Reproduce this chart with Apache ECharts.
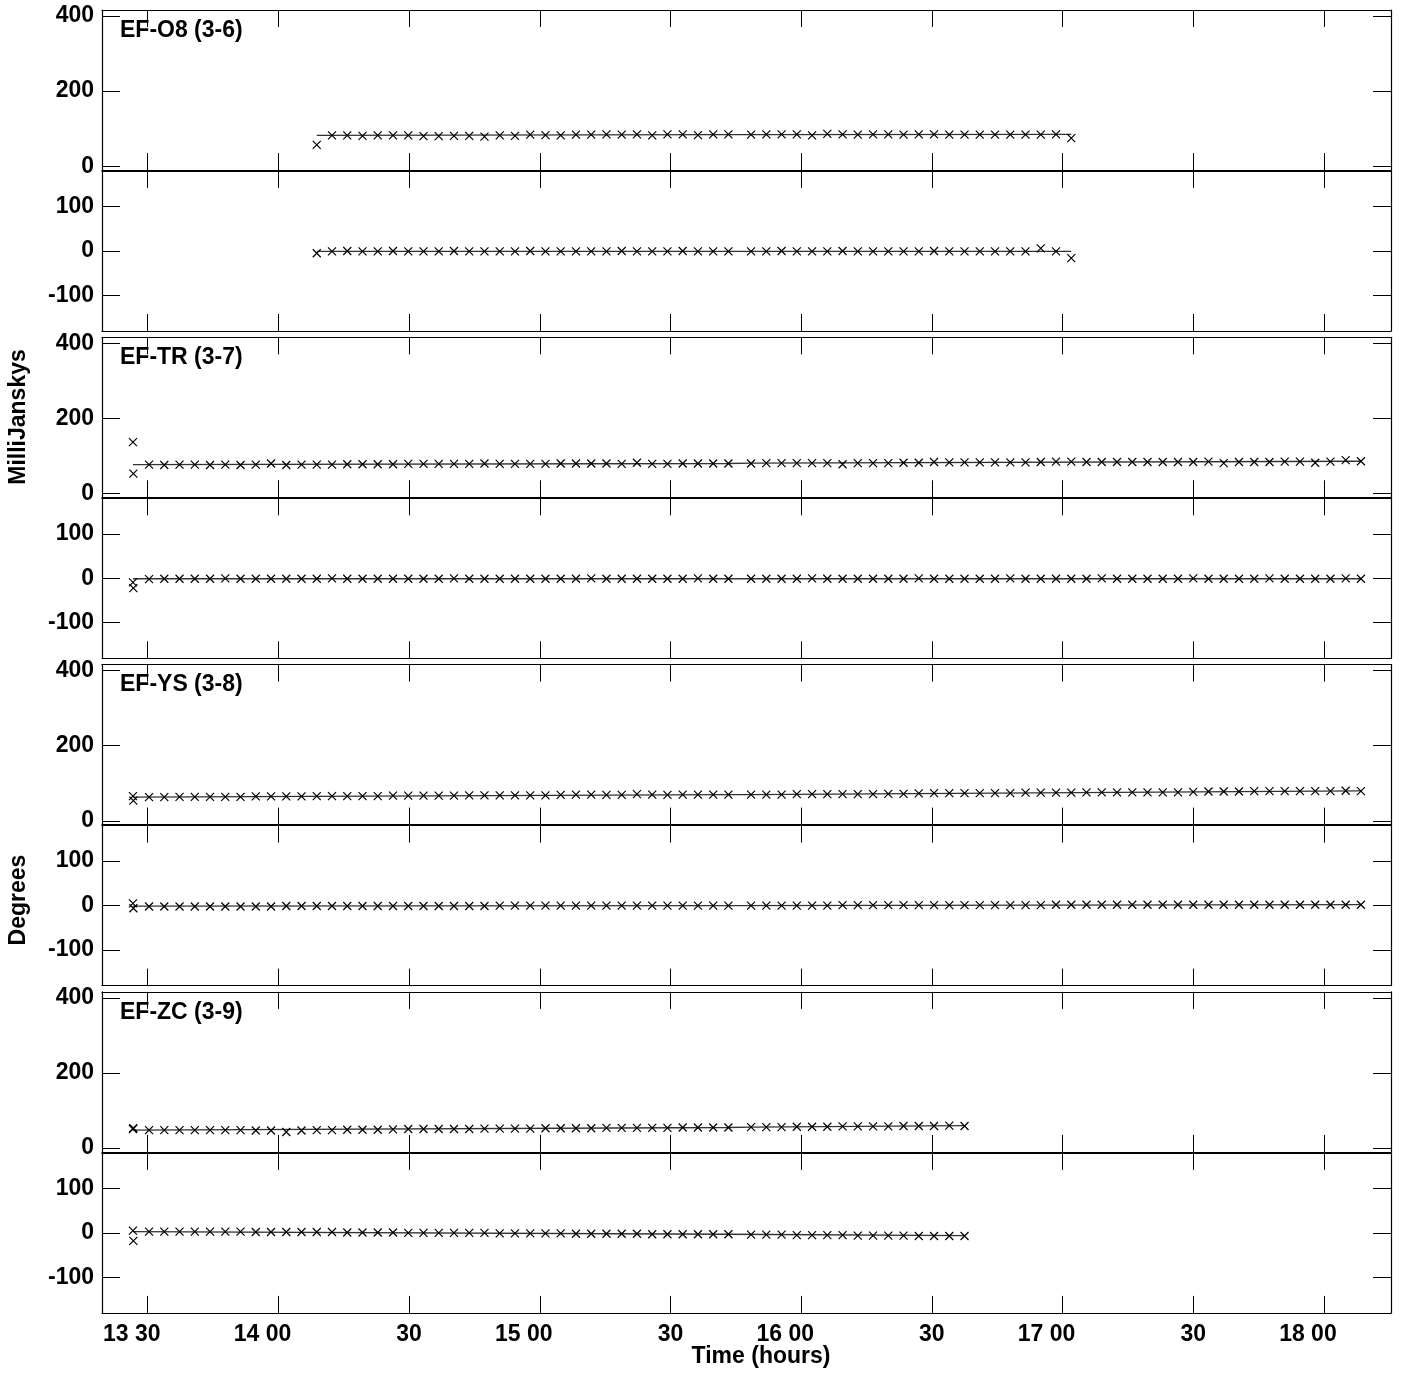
<!DOCTYPE html>
<html>
<head>
<meta charset="utf-8">
<title>EF baselines - amplitude and phase</title>
<script src="https://cdn.jsdelivr.net/npm/echarts@6.0.0/dist/echarts.min.js"></script>
<style>
  html, body { margin: 0; padding: 0; background: #fff; }
  #chart { width: 1403px; height: 1373px; }
</style>
</head>
<body>
<div id="chart"></div>
<script>
// sample times, minutes after 13:00
const times = [
  26.6, 26.7,
  30.3, 33.8, 37.3, 40.8, 44.3, 47.8, 51.3, 54.8, 58.3, 61.8,
  65.3, 68.8, 72.3, 75.8, 79.3, 82.8, 86.3, 89.8, 93.3, 96.8,
  100.3, 103.8, 107.3, 110.8, 114.3, 117.8, 121.3, 124.8, 128.3, 131.8,
  135.3, 138.8, 142.3, 145.8, 149.3, 152.8, 156.3, 159.8, 163.3,
  168.5, 172, 175.5, 179, 182.5, 186, 189.5, 193, 196.5, 200,
  203.5, 207, 210.5, 214, 217.5, 221, 224.5, 228, 231.5, 235,
  238.5, 242, 245.5, 249, 252.5, 256, 259.5, 263, 266.5, 270,
  273.5, 277, 280.5, 284, 287.5, 291, 294.5, 298, 301.5, 305, 308.5
];

// EF-O8 (3-6)
const o8Amp = [
  null, null, null, null, null, null, null, null, null, null, null, null, null,
  57, 82, 82, 81, 82, 82, 82, 80, 80, 81, 81, 79, 82, 81, 84, 83, 82, 84, 84, 85,
  84, 85, 82, 85, 85, 83, 85, 85,
  84, 85, 85, 85, 82, 86, 85, 84, 85, 85, 84, 85, 85, 84, 84, 84, 84, 84, 84, 84, 85, 75,
  null, null, null, null, null, null, null, null, null, null, null, null, null, null, null, null, null, null, null
];
const o8Phase = [
  null, null, null, null, null, null, null, null, null, null, null, null, null,
  -5, -1, 0, -1, -1, 0, -1, -1, -1, 0, -1, -1, -1, -1, 0, -1, -1, -1, -1, -1, 0,
  -1, -1, -1, 0, -1, -1, -1,
  -1, -1, 0, -1, -1, -1, 0, -1, -1, -1, -1, -1, 0, -1, -1, -1, -1, -1, -1, 6, -1, -16,
  null, null, null, null, null, null, null, null, null, null, null, null, null, null, null, null, null, null, null
];
const o8AmpModel = [[68.8, 82], [163.3, 84], [168.5, 84], [242, 85]];
const o8PhaseModel = [[68.8, -1], [242, -1]];

// EF-TR (3-7)
const trAmp = [
  137, 53,
  77, 76, 77, 77, 76, 77, 76, 77, 80, 76, 77, 77, 77, 78, 78, 78, 78, 79, 79, 79,
  79, 79, 80, 79, 79, 79, 79, 80, 80, 80, 80, 79, 82, 79, 79, 80, 80, 80, 80,
  80, 81, 81, 81, 81, 81, 78, 81, 81, 81, 82, 82, 84, 83, 83, 83, 83, 83, 83, 84,
  85, 85, 84, 84, 84, 84, 84, 84, 84, 84, 85, 81, 84, 84, 84, 85, 85, 82, 85, 89, 86
];
const trPhase = [
  -9, -22,
  -2, -1, -1, -1, -1, 0, -1, -1, -1, -1, -1, -1, 0, -1, -1, -1, -1, -1, -1, -1,
  0, -1, -1, -1, -1, -1, -1, -1, -1, 0, -1, -1, -1, -1, -1, -1, 0, -1, -1,
  -1, -1, -1, -1, 0, -1, -1, -1, -1, -1, -1, 0, -1, -1, -1, -1, -1, 0, -1, -1,
  -1, -1, -1, 0, -1, -1, -1, -1, -1, 0, -1, -1, -1, -1, 0, -1, -1, -1, -1, 0, -1
];
const trAmpModel = [[26.6, 77], [163.3, 80], [168.5, 81], [308.5, 86]];
const trPhaseModel = [[26.6, -1], [308.5, -1]];

// EF-YS (3-8)
const ysAmp = [
  66, 54,
  63, 63, 64, 64, 64, 64, 64, 65, 65, 65, 65, 66, 66, 66, 66, 66, 67, 67, 67, 67,
  67, 68, 68, 68, 68, 68, 68, 69, 70, 70, 69, 69, 71, 70, 69, 70, 70, 70, 70,
  70, 70, 70, 71, 71, 71, 71, 71, 71, 72, 72, 73, 74, 74, 74, 74, 74, 74, 75, 75,
  75, 75, 76, 76, 76, 76, 76, 76, 76, 77, 78, 78, 78, 79, 79, 79, 79, 79, 79, 80, 79
];
const ysPhase = [
  5, -6,
  -2, -2, -2, -2, -2, -2, -2, -2, -2, -1, -1, -1, -1, -1, -1, -1, -1, -1, -1, -1,
  -1, -1, -1, 0, 0, 0, 0, 0, 0, 0, 0, 0, 0, 0, 0, 0, 0, 0, 0,
  0, 0, 0, 0, 0, 0, 1, 1, 1, 1, 1, 1, 1, 1, 1, 1, 1, 1, 1, 1,
  2, 2, 2, 2, 2, 2, 2, 2, 2, 2, 2, 2, 2, 2, 2, 2, 2, 2, 2, 2, 2
];
const ysAmpModel = [[26.6, 63], [163.3, 70], [168.5, 70], [308.5, 80]];
const ysPhaseModel = [[26.6, -1], [163.3, 0], [308.5, 2]];

// EF-ZC (3-9)
const zcAmp = [
  51, 53,
  48, 48, 48, 48, 48, 48, 48, 47, 47, 43, 47, 48, 48, 49, 49, 49, 50, 51, 51, 51,
  51, 51, 52, 52, 52, 52, 53, 53, 53, 53, 54, 54, 54, 54, 54, 55, 55, 55, 55,
  56, 56, 56, 57, 57, 57, 58, 58, 58, 58, 59, 59, 59, 60, 59,
  null, null, null, null, null, null, null, null, null, null, null, null, null,
  null, null, null, null, null, null, null, null, null, null, null, null, null
];
const zcPhase = [
  5, -18,
  3, 3, 3, 3, 3, 3, 3, 2, 2, 2, 2, 2, 2, 1, 1, 1, 1, 0, 0, 0,
  0, 0, 0, -1, -1, -1, -1, -1, -2, -2, -2, -2, -2, -3, -3, -3, -3, -3, -3,
  -4, -4, -4, -5, -5, -5, -5, -6, -6, -6, -6, -7, -7, -7, -7,
  null, null, null, null, null, null, null, null, null, null, null, null, null,
  null, null, null, null, null, null, null, null, null, null, null, null, null
];
const zcAmpModel = [[26.6, 48], [163.3, 55], [168.5, 56], [217.5, 60]];
const zcPhaseModel = [[26.6, 3], [163.3, -3], [217.5, -6]];

// ticks
const timeTicks = [30, 60, 90, 120, 150, 180, 210, 240, 270, 300];
const timeTickLabels = ['13 30', '14 00', '30', '15 00', '30', '16 00', '30', '17 00', '30', '18 00'];
const ampTicks = [0, 200, 400];
const phaseTicks = [-100, 0, 100];

const baselines = [
  { name: 'EF-O8 (3-6)', amp: o8Amp, phase: o8Phase, ampModel: o8AmpModel, phaseModel: o8PhaseModel },
  { name: 'EF-TR (3-7)', amp: trAmp, phase: trPhase, ampModel: trAmpModel, phaseModel: trPhaseModel },
  { name: 'EF-YS (3-8)', amp: ysAmp, phase: ysPhase, ampModel: ysAmpModel, phaseModel: ysPhaseModel },
  { name: 'EF-ZC (3-9)', amp: zcAmp, phase: zcPhase, ampModel: zcAmpModel, phaseModel: zcPhaseModel }
];

const FONT = '"Liberation Sans", Arial, Helvetica, sans-serif';
const X_MIN = 19.5, X_MAX = 315.4;
const AMP_MIN = -10, AMP_MAX = 416;
const PH_MIN = -180, PH_MAX = 180;
const LEFT = 102, WIDTH = 1289, PANEL_H = 160, PITCH = 327.3;

const crossSymbol = 'path://M0,0L10,10M10,0L0,10';
const labelStyle = { fontSize: 23, fontWeight: 'bold', fontFamily: FONT, color: '#000' };

function pairs(vals) {
  return times.map((t, i) => [t, vals[i]]).filter(p => p[1] !== null);
}

function timeAxis(gridIndex, position, withLabels) {
  return {
    type: 'value',
    gridIndex: gridIndex,
    position: position,
    min: X_MIN,
    max: X_MAX,
    axisLine: { show: true, onZero: false, lineStyle: { color: '#000', width: 1.2 } },
    axisTick: { show: true, inside: true, length: 17, customValues: timeTicks, lineStyle: { color: '#000', width: 1 } },
    axisLabel: withLabels ? {
      show: true,
      margin: 10,
      customValues: timeTicks,
      formatter: v => {
        const s = timeTickLabels[timeTicks.indexOf(Math.round(v))] || '';
        const parts = s.split(' ');
        // minutes sit centred on the tick, hours hang to the left
        if (parts.length === 2) {
          return '{h|' + parts[0] + ' }{m|' + parts[1] + '}{g| ' + parts[0] + '}';
        }
        return '{m|' + s + '}';
      },
      rich: {
        h: { ...labelStyle },
        m: { ...labelStyle },
        g: { ...labelStyle, color: 'rgba(0,0,0,0)' }
      }
    } : { show: false },
    splitLine: { show: false }
  };
}

function valueAxis(gridIndex, position, min, max, ticks, withLabels) {
  return {
    type: 'value',
    gridIndex: gridIndex,
    position: position,
    min: min,
    max: max,
    axisLine: { show: true, lineStyle: { color: '#000', width: 1.2 } },
    axisTick: { show: true, inside: true, length: 18, customValues: ticks, lineStyle: { color: '#000', width: 1 } },
    axisLabel: withLabels ? { show: true, margin: 8, customValues: ticks, ...labelStyle } : { show: false },
    splitLine: { show: false }
  };
}

const grid = [], xAxis = [], yAxis = [], series = [], graphic = [];

baselines.forEach((bl, b) => {
  const ampTop = 10 + PITCH * b;
  const panels = [
    { top: ampTop, vals: bl.amp, model: bl.ampModel, min: AMP_MIN, max: AMP_MAX, ticks: ampTicks },
    { top: ampTop + 161, vals: bl.phase, model: bl.phaseModel, min: PH_MIN, max: PH_MAX, ticks: phaseTicks }
  ];
  panels.forEach((p, k) => {
    const gi = grid.length;
    grid.push({ left: LEFT, width: WIDTH, top: p.top, height: PANEL_H, containLabel: false });
    const isLast = b === baselines.length - 1 && k === 1;
    xAxis.push(timeAxis(gi, 'bottom', isLast));
    xAxis.push(timeAxis(gi, 'top', false));
    yAxis.push(valueAxis(gi, 'left', p.min, p.max, p.ticks, true));
    yAxis.push(valueAxis(gi, 'right', p.min, p.max, p.ticks, false));
    series.push({
      type: 'line',
      xAxisIndex: 2 * gi,
      yAxisIndex: 2 * gi,
      data: p.model,
      showSymbol: false,
      silent: true,
      lineStyle: { color: '#333', width: 1.3 },
      z: 2
    });
    series.push({
      type: 'scatter',
      xAxisIndex: 2 * gi,
      yAxisIndex: 2 * gi,
      data: pairs(p.vals),
      symbol: crossSymbol,
      symbolSize: 8,
      silent: true,
      itemStyle: { color: 'rgba(0,0,0,0)', borderColor: '#000', borderWidth: 1.2, opacity: 1 },
      z: 3
    });
  });
  graphic.push({
    type: 'text',
    x: 120,
    y: ampTop + 9,
    style: { text: bl.name, font: 'bold 23px ' + FONT, fill: '#000', verticalAlign: 'top' }
  });
});

graphic.push({
  type: 'text', x: 19, y: 417, rotation: Math.PI / 2,
  style: { text: 'MilliJanskys', font: 'bold 23px ' + FONT, fill: '#000', align: 'center', verticalAlign: 'middle' }
});
graphic.push({
  type: 'text', x: 19, y: 900, rotation: Math.PI / 2,
  style: { text: 'Degrees', font: 'bold 23px ' + FONT, fill: '#000', align: 'center', verticalAlign: 'middle' }
});
graphic.push({
  type: 'text', x: 761, y: 1357,
  style: { text: 'Time (hours)', font: 'bold 23px ' + FONT, fill: '#000', align: 'center', verticalAlign: 'middle' }
});

const chart = echarts.init(document.getElementById('chart'), null, { renderer: 'canvas' });
chart.setOption({
  animation: false,
  backgroundColor: '#fff',
  grid: grid,
  xAxis: xAxis,
  yAxis: yAxis,
  series: series,
  graphic: graphic
});
</script>
</body>
</html>
